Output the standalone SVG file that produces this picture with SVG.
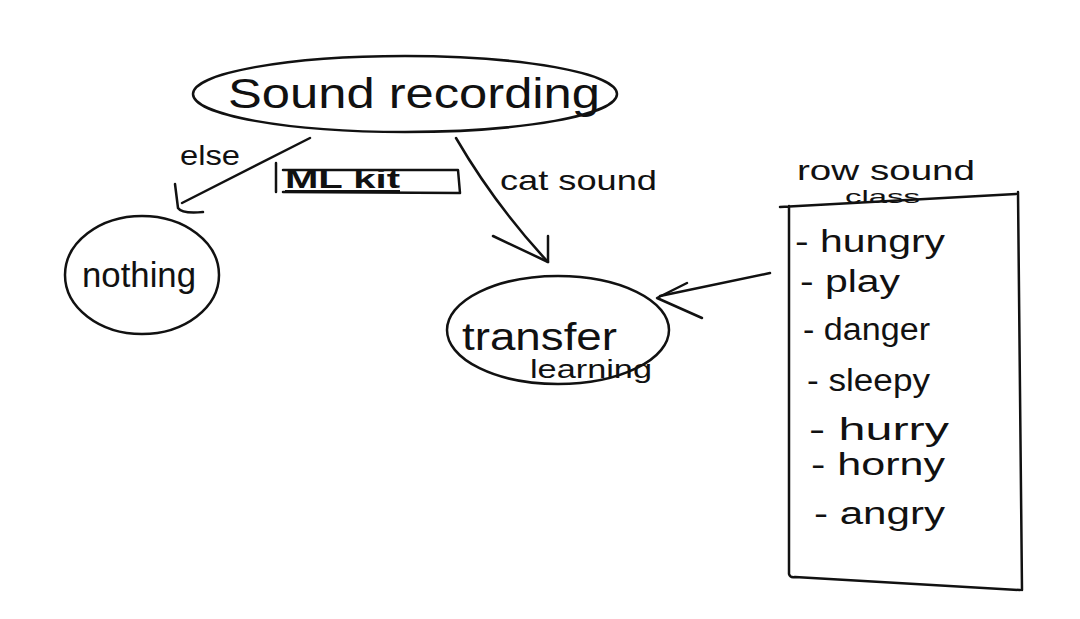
<svg xmlns="http://www.w3.org/2000/svg" width="1080" height="619" viewBox="0 0 1080 619">
<style>
.s{fill:none;stroke:#111;stroke-width:2.5;stroke-linecap:round;stroke-linejoin:round}
.t{font-family:"Liberation Sans","DejaVu Sans",sans-serif;fill:#111}
</style>
<rect width="1080" height="619" fill="#fff"/>
<g id="connectors">
<path class="s" d="M310 138 L182 203"/>
<path class="s" d="M175 184 L178 208 Q182 214 203 212"/>
<path class="s" d="M456 138 Q495 205 548 262"/>
<path class="s" d="M493 236 L548 262 L548 236"/>
<path class="s" d="M770 273 L660 296"/>
<path class="s" d="M687 283 L657 298 L702 318"/>
<text class="t" x="180" y="165" font-size="28" textLength="60" lengthAdjust="spacingAndGlyphs">else</text>
<text class="t" x="500" y="190" font-size="28" textLength="157" lengthAdjust="spacingAndGlyphs">cat sound</text>
</g>
<g id="sound-recording">
<ellipse class="s" cx="405" cy="94" rx="212" ry="38"/>
<text class="t" x="228" y="108" font-size="42" textLength="372" lengthAdjust="spacingAndGlyphs">Sound recording</text>
</g>
<g id="ml-kit">
<path class="s" d="M276 163 L276 192 M283 170 L458 170 L460 193 L283 192"/>
<text class="t" x="285" y="188" font-size="25" font-weight="bold" textLength="115" lengthAdjust="spacingAndGlyphs" text-decoration="underline">ML kit</text>
</g>
<g id="nothing">
<ellipse class="s" cx="142" cy="275" rx="77" ry="59"/>
<text class="t" x="82" y="287" font-size="35" textLength="114" lengthAdjust="spacingAndGlyphs">nothing</text>
</g>
<g id="transfer-learning">
<ellipse class="s" cx="558" cy="330" rx="111" ry="54"/>
<text class="t" x="462" y="350" font-size="38" textLength="155" lengthAdjust="spacingAndGlyphs">transfer</text>
<text class="t" x="530" y="378" font-size="25" textLength="122" lengthAdjust="spacingAndGlyphs">learning</text>
</g>
<g id="sound-class">
<path class="s" d="M780 207 L1016 194 M1018 192 L1022 590 M789 206 L789 574 Q790 578 795 577 L1020 590"/>
<text class="t" x="797" y="180" font-size="28" textLength="178" lengthAdjust="spacingAndGlyphs">row sound</text>
<text class="t" x="845" y="203" font-size="19" textLength="75" lengthAdjust="spacingAndGlyphs">class</text>
<text class="t" x="795" y="252" font-size="32" textLength="150" lengthAdjust="spacingAndGlyphs">- hungry</text>
<text class="t" x="800" y="292" font-size="31" textLength="100" lengthAdjust="spacingAndGlyphs">- play</text>
<text class="t" x="803" y="340" font-size="31" textLength="127" lengthAdjust="spacingAndGlyphs">- danger</text>
<text class="t" x="807" y="391" font-size="31" textLength="123" lengthAdjust="spacingAndGlyphs">- sleepy</text>
<text class="t" x="809" y="440" font-size="31" textLength="140" lengthAdjust="spacingAndGlyphs">- hurry</text>
<text class="t" x="811" y="475" font-size="31" textLength="134" lengthAdjust="spacingAndGlyphs">- horny</text>
<text class="t" x="814" y="524" font-size="31" textLength="131" lengthAdjust="spacingAndGlyphs">- angry</text>
</g>
</svg>
